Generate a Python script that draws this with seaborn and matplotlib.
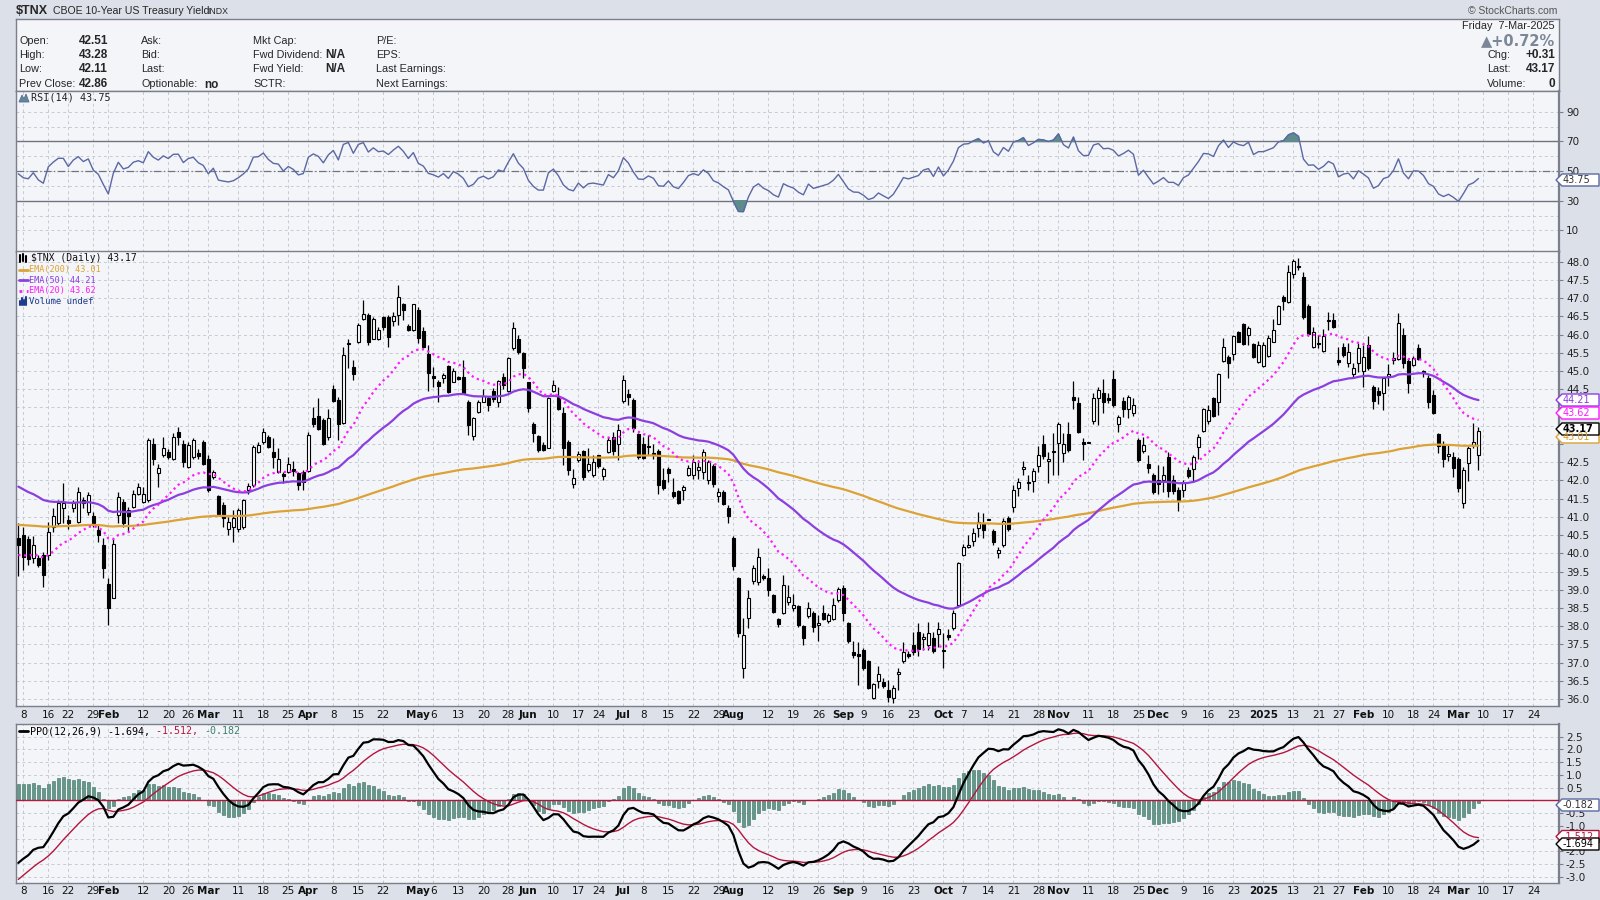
import numpy as np
import pandas as pd
import matplotlib
matplotlib.use('Agg')
import matplotlib.pyplot as plt
import matplotlib.transforms as mtrans
from matplotlib.lines import Line2D
from matplotlib.patches import Polygon
import seaborn as sns

# $TNX daily bars 5-Jan-2024 .. 7-Mar-2025 (yield x10)
open_ = [
    40.25, 40.32, 40.2, 39.7, 39.68, 39.77, 39.77, 40.55, 40.64, 41.05,
    40.73, 41.05, 40.69, 41.28, 40.96, 40.83, 40.46, 40.05, 38.99, 38.6,
    40.87, 41.23, 41.0, 41.1, 41.46, 41.23, 41.28, 42.83, 42.01, 42.53,
    42.6, 42.42, 43.14, 42.83, 42.19, 42.47, 42.58, 42.88, 42.42, 41.92,
    41.4, 41.14, 40.5, 40.55, 40.5, 40.55, 41.56, 41.69, 42.61, 42.88,
    43.02, 42.6, 42.06, 41.99, 42.06, 42.13, 42.01, 42.06, 42.08, 43.52,
    43.59, 43.47, 43.02, 44.34, 44.02, 43.4, 45.58, 44.92, 45.62, 46.24,
    46.35, 45.71, 45.69, 46.31, 46.31, 46.2, 46.37, 46.65, 46.05, 45.94,
    46.49, 45.92, 45.3, 44.68, 44.53, 44.62, 44.96, 44.53, 44.65, 44.66,
    43.98, 43.04, 43.7, 43.98, 44.09, 44.28, 43.96, 44.66, 44.28, 45.44,
    45.71, 45.32, 44.51, 43.38, 43.04, 42.79, 42.72, 44.27, 44.11, 43.66,
    42.88, 41.71, 42.38, 42.63, 42.1, 41.97, 42.51, 41.94, 42.6, 43.02,
    42.81, 44.0, 44.18, 44.02, 43.08, 42.82, 42.76, 42.56, 42.64, 41.83,
    42.13, 41.51, 41.54, 41.56, 41.97, 41.97, 42.1, 42.06, 41.83, 42.22,
    41.39, 41.51, 41.05, 40.25, 39.15, 36.66, 38.05, 39.06, 39.04, 39.2,
    39.13, 38.68, 38.02, 38.19, 38.49, 38.31, 38.37, 37.83, 38.11, 38.17,
    37.84, 38.19, 37.96, 38.02, 38.54, 38.86, 37.92, 37.1, 37.07, 37.18,
    36.86, 35.84, 36.32, 36.3, 36.07, 35.84, 36.51, 36.86, 37.06, 37.3,
    37.65, 37.47, 37.31, 37.49, 37.61, 37.17, 37.58, 37.76, 38.4, 39.77,
    39.99, 40.15, 40.52, 40.64, 40.72, 40.43, 39.82, 40.05, 40.8, 41.1,
    41.6, 42.13, 41.76, 41.79, 42.22, 42.81, 42.35, 42.64, 42.84, 42.56,
    43.08, 44.1, 43.93, 42.88, 42.84, 43.46, 44.09, 44.21, 44.07, 44.59,
    43.38, 43.99, 43.79, 43.66, 42.94, 42.62, 42.26, 41.98, 41.83, 41.83,
    42.47, 41.83, 41.57, 41.57, 42.1, 42.13, 42.74, 43.18, 43.46, 44.07,
    43.96, 45.09, 45.21, 45.28, 45.88, 46.1, 45.82, 45.55, 45.06, 44.97,
    45.24, 45.62, 46.12, 46.84, 46.72, 47.47, 47.7, 47.41, 46.61, 45.49,
    45.57, 45.38, 46.19, 46.22, 45.12, 45.47, 45.03, 44.73, 45.03, 44.83,
    45.53, 44.39, 44.27, 44.21, 44.69, 45.12, 45.14, 45.81, 45.09, 44.98,
    45.44, 44.83, 44.64, 44.16, 43.1, 42.8, 42.5, 42.45, 42.4, 41.2,
    42.3, 42.78, 42.51,
]
high = [
    40.65, 40.55, 40.3, 40.3, 39.77, 39.86, 40.69, 41.05, 41.28, 41.74,
    40.87, 41.28, 41.63, 41.37, 41.51, 40.96, 40.6, 40.23, 39.13, 40.23,
    41.51, 41.32, 41.1, 41.55, 41.74, 41.65, 42.97, 42.97, 42.28, 43.02,
    42.68, 43.11, 43.29, 42.93, 42.88, 42.97, 42.68, 42.93, 42.51, 42.1,
    41.42, 41.23, 40.82, 41.0, 41.05, 41.32, 41.74, 42.79, 42.88, 43.25,
    43.06, 42.99, 42.7, 42.06, 42.47, 42.35, 42.06, 42.1, 43.14, 43.84,
    44.07, 43.52, 43.79, 44.43, 44.11, 45.49, 45.69, 45.12, 46.15, 46.77,
    46.4, 46.31, 46.03, 46.34, 46.35, 46.45, 47.18, 46.7, 46.1, 46.67,
    46.58, 46.03, 45.53, 44.94, 44.57, 44.77, 44.98, 44.89, 44.68, 45.12,
    44.02, 43.57, 44.02, 44.32, 44.14, 44.36, 44.57, 44.77, 45.21, 46.17,
    45.8, 45.35, 44.53, 43.43, 43.06, 42.88, 44.11, 44.57, 44.39, 43.84,
    42.93, 42.13, 42.63, 42.65, 42.7, 42.52, 42.53, 42.19, 43.02, 43.16,
    43.36, 44.71, 44.33, 44.07, 43.13, 43.02, 43.06, 42.83, 42.68, 42.15,
    42.19, 41.89, 41.56, 41.69, 42.24, 42.53, 42.38, 42.68, 42.38, 42.26,
    41.62, 41.57, 41.14, 40.3, 39.18, 38.04, 38.81, 39.5, 39.96, 39.25,
    39.41, 38.7, 38.05, 39.22, 38.95, 38.7, 38.4, 37.85, 38.47, 38.24,
    38.13, 38.4, 38.17, 38.6, 38.9, 38.95, 37.94, 37.41, 37.39, 37.21,
    36.89, 36.25, 36.74, 36.41, 36.35, 36.21, 36.68, 37.38, 37.15, 37.65,
    37.9, 37.62, 37.94, 37.65, 37.94, 37.62, 37.75, 38.26, 39.59, 40.07,
    40.32, 40.52, 40.96, 40.92, 40.72, 40.5, 40.0, 40.78, 40.85, 41.69,
    41.89, 42.35, 41.97, 42.15, 42.77, 43.06, 42.61, 43.11, 43.43, 43.11,
    43.43, 44.54, 44.1, 42.97, 42.84, 44.21, 44.39, 44.59, 44.21, 44.85,
    43.61, 44.11, 44.16, 44.07, 42.99, 43.02, 42.51, 42.01, 42.24, 42.22,
    42.59, 41.97, 41.65, 41.83, 42.19, 42.51, 43.08, 43.81, 43.88, 44.11,
    44.76, 45.73, 45.26, 45.81, 45.92, 46.15, 46.05, 45.58, 45.64, 45.62,
    45.81, 46.24, 46.63, 46.9, 47.73, 47.89, 47.91, 47.54, 46.67, 46.03,
    45.81, 45.97, 46.43, 46.4, 45.49, 45.58, 45.58, 45.03, 45.58, 45.53,
    45.79, 44.43, 44.39, 44.66, 45.0, 45.35, 46.4, 45.99, 45.17, 45.24,
    45.55, 44.85, 44.71, 44.3, 43.11, 42.9, 42.8, 42.6, 42.45, 42.2,
    42.75, 43.4, 43.28,
]
low = [
    39.2, 39.36, 39.5, 39.55, 39.45, 38.9, 39.63, 40.41, 40.6, 40.64,
    40.5, 40.96, 40.64, 41.05, 40.87, 40.55, 40.14, 39.13, 37.85, 38.58,
    40.64, 40.55, 40.41, 41.05, 41.42, 41.19, 41.23, 42.24, 41.65, 42.47,
    42.42, 42.38, 42.79, 42.19, 42.15, 42.42, 42.42, 42.24, 41.51, 41.85,
    40.87, 40.55, 40.32, 40.14, 40.41, 40.5, 41.46, 41.65, 42.56, 42.83,
    42.7, 42.15, 42.02, 41.74, 42.02, 41.95, 41.56, 41.56, 42.06, 43.29,
    43.2, 42.79, 42.93, 43.98, 42.93, 43.38, 44.91, 44.57, 45.6, 46.22,
    45.53, 45.7, 45.67, 45.94, 45.49, 46.06, 46.08, 46.22, 45.92, 45.92,
    45.58, 45.46, 44.27, 44.39, 43.98, 44.48, 44.21, 44.51, 44.57, 44.18,
    43.06, 42.93, 43.66, 43.96, 43.72, 43.98, 43.84, 44.32, 44.25, 45.41,
    45.3, 44.62, 43.7, 42.88, 42.61, 42.63, 42.7, 44.25, 43.75, 42.24,
    41.97, 41.62, 42.33, 41.83, 42.04, 41.92, 42.17, 41.83, 42.56, 42.51,
    42.38, 43.93, 43.9, 43.16, 42.42, 42.42, 42.51, 42.42, 41.44, 41.56,
    41.78, 41.33, 41.16, 41.28, 41.95, 41.87, 41.87, 41.85, 41.71, 41.65,
    41.24, 41.14, 40.64, 39.36, 37.53, 36.39, 37.76, 38.99, 38.95, 39.1,
    38.66, 38.17, 37.81, 38.15, 38.4, 38.24, 37.81, 37.31, 38.04, 37.67,
    37.41, 37.99, 37.9, 38.0, 38.49, 37.96, 37.35, 36.94, 36.21, 36.62,
    36.1, 35.82, 36.12, 36.12, 35.73, 35.71, 36.07, 36.8, 36.95, 37.03,
    37.0, 37.17, 37.17, 37.08, 37.26, 36.66, 37.44, 37.71, 38.37, 39.75,
    39.97, 40.03, 40.28, 40.25, 40.72, 40.05, 39.68, 40.0, 40.43, 40.96,
    41.4, 41.97, 41.56, 41.51, 42.06, 42.42, 41.74, 41.97, 41.97, 42.33,
    42.61, 43.79, 43.11, 42.38, 42.84, 43.38, 43.34, 43.66, 43.93, 43.84,
    43.14, 43.57, 43.52, 43.59, 42.33, 42.56, 42.01, 41.46, 41.46, 41.51,
    41.37, 41.46, 40.98, 41.37, 41.89, 41.77, 42.42, 43.15, 43.38, 43.57,
    43.61, 45.07, 44.62, 45.12, 45.61, 45.53, 45.53, 45.17, 45.03, 44.94,
    45.21, 45.61, 46.1, 46.49, 46.7, 47.38, 47.59, 46.26, 45.79, 45.46,
    45.44, 45.35, 45.94, 46.0, 44.98, 45.21, 44.94, 44.64, 44.8, 44.39,
    44.85, 43.78, 43.91, 43.75, 44.4, 45.0, 45.12, 44.91, 44.23, 44.97,
    45.12, 44.66, 43.8, 43.63, 42.56, 42.2, 42.35, 41.9, 41.5, 41.07,
    41.8, 42.7, 42.11,
]
close = [
    40.05, 39.73, 39.65, 40.05, 39.5, 39.22, 40.41, 40.83, 41.19, 41.19,
    40.64, 41.19, 41.51, 41.19, 41.42, 40.64, 40.32, 39.41, 38.31, 40.07,
    41.37, 40.64, 40.83, 41.46, 41.65, 41.46, 42.93, 42.42, 42.15, 42.7,
    42.47, 43.0, 43.02, 42.33, 42.79, 42.93, 42.5, 42.28, 41.56, 42.06,
    40.89, 40.78, 40.69, 40.78, 41.0, 41.28, 41.67, 42.74, 42.79, 43.16,
    42.74, 42.47, 42.42, 41.94, 42.28, 42.08, 41.69, 41.78, 43.06, 43.38,
    43.23, 42.82, 43.54, 44.0, 43.38, 45.26, 45.55, 44.75, 46.08, 46.38,
    45.62, 46.26, 45.94, 46.03, 45.76, 46.33, 46.86, 46.49, 45.94, 46.65,
    45.74, 45.49, 44.78, 44.64, 44.41, 44.71, 44.25, 44.83, 44.6, 44.21,
    43.34, 43.52, 43.98, 44.14, 43.89, 44.05, 44.55, 44.43, 45.19, 46.01,
    45.33, 44.91, 43.8, 43.11, 42.65, 42.65, 44.07, 44.45, 43.79, 42.7,
    42.1, 41.88, 42.54, 41.92, 42.28, 42.33, 42.22, 42.12, 42.93, 42.63,
    43.2, 44.57, 44.11, 43.25, 42.47, 42.44, 42.74, 42.51, 41.69, 41.62,
    42.03, 41.4, 41.19, 41.63, 42.17, 42.33, 42.19, 42.61, 42.33, 41.71,
    41.51, 41.16, 40.85, 39.48, 37.62, 37.58, 38.6, 39.41, 39.71, 39.13,
    38.81, 38.22, 37.87, 38.95, 38.63, 38.4, 37.85, 37.49, 38.33, 37.79,
    37.9, 38.02, 38.13, 38.4, 38.83, 38.17, 37.4, 37.03, 37.0, 36.66,
    36.13, 36.22, 36.5, 36.19, 35.89, 36.12, 36.57, 37.1, 37.0, 37.1,
    37.2, 37.53, 37.62, 37.14, 37.73, 37.14, 37.53, 38.19, 39.54, 39.98,
    40.04, 40.39, 40.69, 40.46, 40.72, 40.12, 39.91, 40.71, 40.49, 41.57,
    41.78, 42.19, 41.74, 42.08, 42.53, 42.5, 42.42, 42.59, 43.38, 42.83,
    42.65, 44.02, 43.16, 42.81, 42.84, 44.09, 44.3, 43.96, 44.02, 43.9,
    43.55, 43.79, 44.11, 43.88, 42.38, 42.79, 42.17, 41.49, 41.71, 41.98,
    41.53, 41.53, 41.25, 41.76, 41.95, 42.45, 43.0, 43.78, 43.75, 43.59,
    44.73, 45.49, 45.03, 45.78, 45.62, 45.55, 45.99, 45.21, 45.53, 45.53,
    45.74, 45.94, 46.6, 46.74, 47.54, 47.84, 47.67, 46.31, 45.85, 45.88,
    45.55, 45.79, 46.2, 46.03, 45.06, 45.27, 45.33, 44.89, 45.46, 45.21,
    44.91, 43.99, 44.16, 44.62, 44.73, 45.18, 46.15, 45.03, 44.48, 45.17,
    45.15, 44.76, 43.96, 43.66, 42.75, 42.4, 42.55, 42.15, 41.6, 42.1,
    42.7, 42.86, 43.17,
]

# market closures inside the window
holidays = ['2024-01-15', '2024-02-19', '2024-03-29', '2024-05-27', '2024-06-19',
            '2024-07-04', '2024-09-02', '2024-11-28', '2024-12-25', '2025-01-01',
            '2025-01-09', '2025-01-20', '2025-02-17']

# indicator states at the first bar (history before it is not on the chart)
ema_start = {20: 39.77, 50: 41.65, 200: 40.6}
ppo_fast_start, ppo_slow_start, ppo_signal_start = 39.8, 40.8, -3.1
rsi_gain_start, rsi_loss_start = 0.20, 0.215

# printed values
legend_vals = {'last': '43.17', 'ema200': '43.01', 'ema50': '44.21', 'ema20': '43.62',
               'rsi': '43.75', 'ppo': '-1.694', 'sig': '-1.512', 'hist': '-0.182'}
header_left = [('Open:', '42.51'), ('High:', '43.28'), ('Low:', '42.11'), ('Prev Close:', '42.86')]
header_col2 = ['Ask:', 'Bid:', 'Last:', 'Optionable:']
header_col3 = [('Mkt Cap:', ''), ('Fwd Dividend:', 'N/A'), ('Fwd Yield:', 'N/A'), ('SCTR:', '')]
header_col4 = ['P/E:', 'EPS:', 'Last Earnings:', 'Next Earnings:']

BG = '#f4f5f9'
FRAME = '#dce0e8'
GRID = '#c6cad4'
EDGE = '#7b7f8b'
C200, C50, C20 = '#dca235', '#8b3fe0', '#ff1aff'
CRSI, CFILL = '#5b68a3', '#5e8c8c'
CSIG, CHIST = '#b3163e', '#64998a'
HF = 'Liberation Sans'
MONO = 'DejaVu Sans Mono'


def ema(values, span, start):
    alpha = 2.0 / (span + 1)
    out = [start]
    for v in values[1:]:
        out.append(out[-1] + alpha * (v - out[-1]))
    return np.array(out)


def wilder_rsi(values, period, g0, l0):
    ag, al = g0, l0
    out = [100 - 100 / (1 + ag / al)]
    for k in range(1, len(values)):
        d = values[k] - values[k - 1]
        ag = (ag * (period - 1) + max(d, 0)) / period
        al = (al * (period - 1) + max(-d, 0)) / period
        out.append(100 - 100 / (1 + ag / al))
    return np.array(out)


df = pd.DataFrame({'open': open_, 'high': high, 'low': low, 'close': close})
n = len(df)
x = np.arange(n)
c = df['close'].values
ema20 = ema(c, 20, ema_start[20])
ema50 = ema(c, 50, ema_start[50])
ema200 = ema(c, 200, ema_start[200])
fast = ema(c, 12, ppo_fast_start)
slow = ema(c, 26, ppo_slow_start)
ppo = (fast - slow) / slow * 100
sig = ema(ppo, 9, ppo_signal_start)
hist = ppo - sig
rsi = wilder_rsi(c, 14, rsi_gain_start, rsi_loss_start)

# calendar and date labels
cal = pd.bdate_range('2024-01-05', '2025-04-04')
cal = cal[~cal.isin(pd.to_datetime(holidays))]
month_starts = [i for i in range(1, len(cal)) if cal[i].month != cal[i - 1].month]
ticks = []
for i in range(1, 307):
    d = cal[i]
    if i in month_starts:
        ticks.append((i, str(d.year) if d.month == 1 else d.strftime('%b'), True))
    elif d.isocalendar()[1] != cal[i - 1].isocalendar()[1]:
        if min(abs(i - m) for m in month_starts) > 2:
            ticks.append((i, str(d.day), False))
tick_pos = [t[0] for t in ticks]

sns.set_theme(style='white')
plt.rcParams['font.family'] = ['DejaVu Sans']

fig = plt.figure(figsize=(16, 9), dpi=100)
fig.patch.set_facecolor(FRAME)


def fx(px):
    return px / 1600


def fy(py):
    return 1 - py / 900


L, R = 16, 1559
W = fx(R) - fx(L)
ax_head = fig.add_axes([fx(L), fy(91.3), W, (91.3 - 18.5) / 900])
ax_rsi = fig.add_axes([fx(L), fy(251.5), W, (251.5 - 91.3) / 900])
ax = fig.add_axes([fx(L), fy(706), W, (706 - 251.5) / 900])
ax_ppo = fig.add_axes([fx(L), fy(883), W, (883 - 724) / 900])

for a in (ax_head, ax_rsi, ax, ax_ppo):
    a.set_facecolor(BG)
    for s in a.spines.values():
        s.set_color(EDGE)
        s.set_linewidth(1.0)
ax_head.set_xticks([])
ax_head.set_yticks([])

XL = (-0.46, 308.1)
grid_kw = dict(color=GRID, linestyle=(0, (3, 3)), linewidth=0.7)
for a in (ax_rsi, ax, ax_ppo):
    a.set_xlim(*XL)
    a.set_xticks(tick_pos)
    a.tick_params(axis='x', length=0, labelbottom=False)
    a.yaxis.tick_right()
    a.tick_params(axis='y', which='both', right=True, length=3, width=0.8, color=EDGE,
                  labelsize=7.5, pad=2, labelcolor='#222222')
    a.grid(True, which='both', **grid_kw)
    a.set_axisbelow(True)
    a.spines['right'].set_linewidth(1.6)

# ---- price panel (the scale's grid and labels sit a few pixels under the bars' levels)
ax.set_ylim(35.63, 48.1)
levels = np.arange(36, 48.01, 0.5)
under_tags = {43.0, 43.5, 44.0}
ax.set_yticks(levels - 0.18)
ax.set_yticklabels(['' if round(v, 1) in under_tags else '%.1f' % v for v in levels])

o = df['open'].values
up = c >= o
bot = np.minimum(o, c)
hgt = np.maximum(np.abs(c - o), 0.03)
ax.vlines(x, df['low'], df['high'], color='black', linewidth=0.9, zorder=2)
ax.bar(x[up], hgt[up], bottom=bot[up], width=0.7, facecolor='white', edgecolor='black',
       linewidth=0.8, zorder=3)
ax.bar(x[~up], hgt[~up], bottom=bot[~up], width=0.7, facecolor='black', edgecolor='black',
       linewidth=0.8, zorder=3)
sns.lineplot(x=x, y=ema200, ax=ax, color=C200, linewidth=1.6, zorder=4)
sns.lineplot(x=x, y=ema50, ax=ax, color=C50, linewidth=1.6, zorder=4)
sns.lineplot(x=x, y=ema20, ax=ax, color=C20, linewidth=1.6, linestyle=(0, (1, 1.6)), zorder=4)
ax.set_xlabel('')
ax.set_ylabel('')

# ---- RSI panel
ax_rsi.set_ylim(-4.3, 103.9)
ax_rsi.set_yticks([10, 30, 50, 70, 90])
ax_rsi.set_yticks([20, 40, 60, 80], minor=True)
ax_rsi.tick_params(axis='y', which='minor', length=0)
ax_rsi.axhline(70, color='#70747f', linewidth=1.0, zorder=2)
ax_rsi.axhline(30, color='#70747f', linewidth=1.0, zorder=2)
ax_rsi.axhline(50, color='#70747f', linewidth=0.9, linestyle=(0, (6, 2, 1, 2)), zorder=2)
ax_rsi.fill_between(x, 70, rsi, where=rsi > 70, interpolate=True, color=CFILL, zorder=3)
ax_rsi.fill_between(x, 30, rsi, where=rsi < 30, interpolate=True, color=CFILL, zorder=3)
sns.lineplot(x=x, y=rsi, ax=ax_rsi, color=CRSI, linewidth=1.0, zorder=4)
ax_rsi.set_xlabel('')
ax_rsi.set_ylabel('')

# ---- PPO panel
ax_ppo.set_ylim(-3.24, 3.0)
ppo_levels = np.arange(-3.0, 2.51, 0.5)
ax_ppo.set_yticks(ppo_levels)
ax_ppo.set_yticklabels(['' if round(v, 1) in (0.0, -1.5) else '%.1f' % v for v in ppo_levels])
ax_ppo.bar(x, hist, width=0.62, color=CHIST, edgecolor='#3f6f62', linewidth=0.4, zorder=2)
ax_ppo.axhline(0, color=CSIG, linewidth=1.0, zorder=3)
sns.lineplot(x=x, y=sig, ax=ax_ppo, color=CSIG, linewidth=1.0, zorder=4)
sns.lineplot(x=x, y=ppo, ax=ax_ppo, color='black', linewidth=1.6, zorder=5)
ax_ppo.set_xlabel('')
ax_ppo.set_ylabel('')

# ---- date labels
for a, yy in ((ax, -0.02), (ax_ppo, -0.05)):
    tr = mtrans.blended_transform_factory(a.transData, a.transAxes)
    for pos, txt, bold in ticks:
        a.text(pos, yy, txt, transform=tr, ha='center', va='center', fontsize=7.5,
               fontweight='bold' if bold else 'normal', color='#111111', clip_on=False)


# ---- value tags on the right edge (rows in pixels from the top)
def tag(row, txt, ec, tc, weight='normal'):
    pts = [(1556, row), (1562, row - 6), (1599, row - 6), (1599, row + 6), (1562, row + 6)]
    fig.add_artist(Polygon([(fx(a), fy(b)) for a, b in pts], closed=True, fc='white', ec=ec,
                           lw=1.0, transform=fig.transFigure, zorder=10))
    fig.text(fx(1563), fy(row), txt, fontsize=7, color=tc, fontweight=weight, va='center',
             zorder=11)


tag(180, legend_vals['rsi'], CRSI, '#333333')
tag(400, legend_vals['ema50'], C50, C50)
tag(413, legend_vals['ema20'], C20, C20)
tag(437, legend_vals['ema200'], C200, C200)
tag(429, legend_vals['last'], 'black', 'black', 'bold')
tag(805, legend_vals['hist'], CRSI, '#333333')
tag(836.5, legend_vals['sig'], CSIG, CSIG)
tag(844, legend_vals['ppo'], 'black', 'black')

# ---- panel legends
fig.add_artist(Polygon([(fx(19), fy(102)), (fx(22), fy(95)), (fx(24), fy(99)), (fx(26), fy(94)),
                        (fx(29), fy(102))], closed=True, fc=CFILL, ec=CRSI, lw=0.6,
                       transform=fig.transFigure))
fig.text(fx(31), fy(98), 'RSI(14) ' + legend_vals['rsi'], fontsize=7.3, va='center',
         color='#222222', family=MONO)
fig.text(fx(31), fy(258), '$TNX (Daily) ' + legend_vals['last'], fontsize=7.0, va='center',
         color='#111111', family=MONO)
leg = [('EMA(200) ' + legend_vals['ema200'], C200, '-', 269.5),
       ('EMA(50) ' + legend_vals['ema50'], C50, '-', 280),
       ('EMA(20) ' + legend_vals['ema20'], C20, ':', 290.5)]
for txt, col, ls, yy in leg:
    fig.add_artist(Line2D([fx(19), fx(28)], [fy(yy), fy(yy)], color=col, linewidth=2,
                          linestyle=ls, transform=fig.transFigure))
    fig.text(fx(29), fy(yy), txt, fontsize=6.1, va='center', color=col, family=MONO)
fig.text(fx(29), fy(301), 'Volume undef', fontsize=6.5, va='center', color='#1f3b8c', family=MONO)
for k, hh in enumerate((4, 7, 5, 8)):
    fig.add_artist(Line2D([fx(20 + 2 * k)] * 2, [fy(305), fy(305 - hh)], color='#1f3b8c',
                          linewidth=1.5, transform=fig.transFigure))
for k, (lo_, hi_) in enumerate(((255, 262), (254, 261), (256, 262))):
    fig.add_artist(Line2D([fx(20 + 3 * k)] * 2, [fy(hi_), fy(lo_)], color='black',
                          linewidth=1.5, transform=fig.transFigure))
fig.add_artist(Line2D([fx(19), fx(28)], [fy(731), fy(731)], color='black', linewidth=2,
                      transform=fig.transFigure))
# monospace: place the coloured parts by character count
ppo_fs = 7.2
char_px = ppo_fs / 72 * 100 * 0.602
col_x = 30
for txt, col in (('PPO(12,26,9) ' + legend_vals['ppo'] + ', ', 'black'),
                 (legend_vals['sig'] + ', ', CSIG), (legend_vals['hist'], '#3f7f6e')):
    fig.text(fx(col_x), fy(731), txt, fontsize=ppo_fs, va='center', color=col, family=MONO)
    col_x += len(txt) * char_px

# ---- title bar and header
fig.text(fx(16), fy(11), '$TNX', fontsize=9, fontweight='bold', va='center', family=HF)
fig.text(fx(53), fy(11), 'CBOE 10-Year US Treasury Yield', fontsize=7.6, va='center', family=HF)
fig.text(fx(207), fy(11.5), 'INDX', fontsize=6.3, va='center', family=HF)
fig.text(fx(1557), fy(11), '\u00a9 StockCharts.com', fontsize=7.5, va='center', ha='right',
         color='#555555', family=HF)
rows = [41, 55, 69.5, 84]
for r, (lab, val) in zip(rows, header_left):
    fig.text(fx(19), fy(r), lab, fontsize=7.8, va='center', family=HF)
    fig.text(fx(108), fy(r), val, fontsize=8.5, va='center', ha='right', fontweight='bold', family=HF)
for r, lab in zip(rows, header_col2):
    fig.text(fx(141), fy(r), lab, fontsize=7.8, va='center', family=HF)
fig.text(fx(204), fy(rows[3] + 1), 'no', fontsize=8.5, va='center', fontweight='bold', family=HF)
for r, (lab, val) in zip(rows, header_col3):
    fig.text(fx(253), fy(r), lab, fontsize=7.8, va='center', family=HF)
    if val:
        fig.text(fx(325), fy(r), val, fontsize=8.5, va='center', fontweight='bold', family=HF)
for r, lab in zip(rows, header_col4):
    fig.text(fx(376), fy(r), lab, fontsize=7.8, va='center', family=HF)
fig.text(fx(1555), fy(26), 'Friday  7-Mar-2025', fontsize=7.8, va='center', ha='right', family=HF)
fig.text(fx(1555), fy(41), '\u25b2+0.72%', fontsize=10.5, va='center', ha='right',
         fontweight='bold', color='#7b8796')
for r, lab, val in ((55, 'Chg:', '+0.31'), (69.5, 'Last:', '43.17'), (84, 'Volume:', '0')):
    fig.text(fx(1487), fy(r), lab, fontsize=7.8, va='center', family=HF)
    fig.text(fx(1555), fy(r), val, fontsize=8.5, va='center', ha='right', fontweight='bold', family=HF)

fig.savefig('out.png', dpi=100, facecolor=fig.get_facecolor())
